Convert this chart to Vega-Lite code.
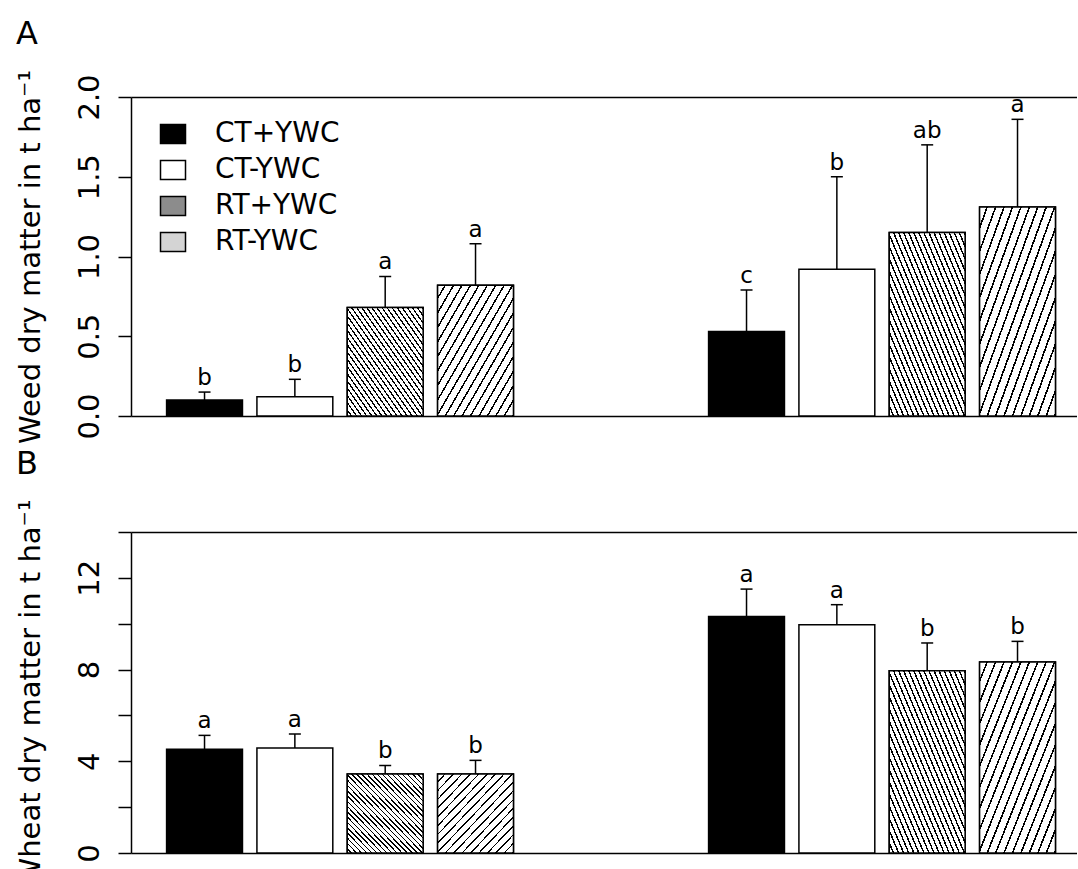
{
 "$schema": "https://vega.github.io/schema/vega-lite/v6.json",
 "padding": {"left": 15, "top": 18, "right": 0, "bottom": 0},
 "config": {
  "font": "DejaVu Sans",
  "view": {"stroke": null},
  "axis": {"domainColor": "black", "domainWidth": 1.5, "tickColor": "black", "tickWidth": 1.5, "tickSize": 13, "grid": false, "labelColor": "black", "labelFontSize": 29, "labelFont": "DejaVu Sans", "titleColor": "black", "titleFont": "DejaVu Sans", "titleFontSize": 29, "titleFontWeight": "normal"},
  "axisY": {"labelAngle": 270, "labelAlign": "center", "labelBaseline": "alphabetic", "labelPadding": 20, "titlePadding": 30},
  "title": {"font": "DejaVu Sans", "fontSize": 32, "fontWeight": "normal", "color": "black", "anchor": "start", "frame": "bounds"}
 },
 "datasets": {
  "weed": [
   {"year": "Y1", "trt": "CT+YWC", "mean": 0.10, "upper": 0.15, "letter": "b"},
   {"year": "Y1", "trt": "CT-YWC", "mean": 0.12, "upper": 0.23, "letter": "b"},
   {"year": "Y1", "trt": "RT+YWC", "mean": 0.68, "upper": 0.875, "letter": "a"},
   {"year": "Y1", "trt": "RT-YWC", "mean": 0.82, "upper": 1.08, "letter": "a"},
   {"year": "Y2", "trt": "CT+YWC", "mean": 0.53, "upper": 0.79, "letter": "c"},
   {"year": "Y2", "trt": "CT-YWC", "mean": 0.92, "upper": 1.50, "letter": "b"},
   {"year": "Y2", "trt": "RT+YWC", "mean": 1.15, "upper": 1.70, "letter": "ab"},
   {"year": "Y2", "trt": "RT-YWC", "mean": 1.31, "upper": 1.86, "letter": "a"}
  ],
  "wheat": [
   {"year": "Y1", "trt": "CT+YWC", "mean": 4.53, "upper": 5.13, "letter": "a"},
   {"year": "Y1", "trt": "CT-YWC", "mean": 4.58, "upper": 5.19, "letter": "a"},
   {"year": "Y1", "trt": "RT+YWC", "mean": 3.45, "upper": 3.82, "letter": "b"},
   {"year": "Y1", "trt": "RT-YWC", "mean": 3.45, "upper": 4.04, "letter": "b"},
   {"year": "Y2", "trt": "CT+YWC", "mean": 10.32, "upper": 11.51, "letter": "a"},
   {"year": "Y2", "trt": "CT-YWC", "mean": 9.96, "upper": 10.83, "letter": "a"},
   {"year": "Y2", "trt": "RT+YWC", "mean": 7.95, "upper": 9.16, "letter": "b"},
   {"year": "Y2", "trt": "RT-YWC", "mean": 8.33, "upper": 9.23, "letter": "b"}
  ]
 },
 "spacing": 3,
 "resolve": {"scale": {"y": "independent", "fill": "independent"}, "legend": {"fill": "independent"}},
 "vconcat": [
  {
   "data": {"name": "weed"},
   "width": 946, "height": 319,
   "title": {"text": "A", "offset": 18},
   "encoding": {
    "xOffset": {"field": "trt", "type": "nominal", "scale": {"domain": ["CT+YWC", "CT-YWC", "RT+YWC", "RT-YWC"], "paddingInner": 0.16, "paddingOuter": 0}},
    "y": {"field": "mean", "type": "quantitative", "scale": {"domain": [0, 2], "nice": false}, "axis": {"values": [0, 0.5, 1, 1.5, 2], "format": ".1f", "title": "Weed dry matter in t ha⁻¹"}}
   },
   "layer": [
    {"mark": {"type": "bar", "stroke": "black", "strokeWidth": 1.5},
     "encoding": {
      "x": {"field": "year", "type": "nominal", "scale": {"domain": ["Y1", "Y2"], "paddingInner": 0.36, "paddingOuter": 0.0527, "align": 0.623}, "axis": {"orient": "bottom", "labels": false, "ticks": false, "title": null}},
      "fill": {"field": "trt", "type": "nominal",
       "scale": {"domain": ["CT+YWC", "CT-YWC", "RT+YWC", "RT-YWC"], "range": ["black", "white", "#8c8c8c", "#d4d4d4"]},
       "legend": {"orient": "none", "legendX": 28, "legendY": 23, "title": null, "symbolType": "M-1,-0.76L1,-0.76L1,0.76L-1,0.76Z", "symbolSize": 625, "symbolStrokeWidth": 1.5, "symbolOpacity": 1, "labelFontSize": 28, "labelFont": "DejaVu Sans", "labelColor": "black", "labelOffset": 28, "rowPadding": 8, "padding": 0}}
     }},
    {"transform": [{"filter": "datum.trt === 'RT+YWC'"}],
     "mark": {"type": "bar", "stroke": "black", "strokeWidth": 1.5, "fill": {"gradient": "linear", "x1": 0, "y1": 1, "x2": 1, "y2": 0, "stops": [
      {"offset": 0, "color": "#fff"},
      {"offset": 0.0233, "color": "#fff"}, {"offset": 0.0233, "color": "#000"}, {"offset": 0.0333, "color": "#000"}, {"offset": 0.0333, "color": "#fff"},
      {"offset": 0.0567, "color": "#fff"}, {"offset": 0.0567, "color": "#000"}, {"offset": 0.0667, "color": "#000"}, {"offset": 0.0667, "color": "#fff"},
      {"offset": 0.09, "color": "#fff"}, {"offset": 0.09, "color": "#000"}, {"offset": 0.1, "color": "#000"}, {"offset": 0.1, "color": "#fff"},
      {"offset": 0.1233, "color": "#fff"}, {"offset": 0.1233, "color": "#000"}, {"offset": 0.1333, "color": "#000"}, {"offset": 0.1333, "color": "#fff"},
      {"offset": 0.1567, "color": "#fff"}, {"offset": 0.1567, "color": "#000"}, {"offset": 0.1667, "color": "#000"}, {"offset": 0.1667, "color": "#fff"},
      {"offset": 0.19, "color": "#fff"}, {"offset": 0.19, "color": "#000"}, {"offset": 0.2, "color": "#000"}, {"offset": 0.2, "color": "#fff"},
      {"offset": 0.2233, "color": "#fff"}, {"offset": 0.2233, "color": "#000"}, {"offset": 0.2333, "color": "#000"}, {"offset": 0.2333, "color": "#fff"},
      {"offset": 0.2567, "color": "#fff"}, {"offset": 0.2567, "color": "#000"}, {"offset": 0.2667, "color": "#000"}, {"offset": 0.2667, "color": "#fff"},
      {"offset": 0.29, "color": "#fff"}, {"offset": 0.29, "color": "#000"}, {"offset": 0.3, "color": "#000"}, {"offset": 0.3, "color": "#fff"},
      {"offset": 0.3233, "color": "#fff"}, {"offset": 0.3233, "color": "#000"}, {"offset": 0.3333, "color": "#000"}, {"offset": 0.3333, "color": "#fff"},
      {"offset": 0.3567, "color": "#fff"}, {"offset": 0.3567, "color": "#000"}, {"offset": 0.3667, "color": "#000"}, {"offset": 0.3667, "color": "#fff"},
      {"offset": 0.39, "color": "#fff"}, {"offset": 0.39, "color": "#000"}, {"offset": 0.4, "color": "#000"}, {"offset": 0.4, "color": "#fff"},
      {"offset": 0.4233, "color": "#fff"}, {"offset": 0.4233, "color": "#000"}, {"offset": 0.4333, "color": "#000"}, {"offset": 0.4333, "color": "#fff"},
      {"offset": 0.4567, "color": "#fff"}, {"offset": 0.4567, "color": "#000"}, {"offset": 0.4667, "color": "#000"}, {"offset": 0.4667, "color": "#fff"},
      {"offset": 0.49, "color": "#fff"}, {"offset": 0.49, "color": "#000"}, {"offset": 0.5, "color": "#000"}, {"offset": 0.5, "color": "#fff"},
      {"offset": 0.5233, "color": "#fff"}, {"offset": 0.5233, "color": "#000"}, {"offset": 0.5333, "color": "#000"}, {"offset": 0.5333, "color": "#fff"},
      {"offset": 0.5567, "color": "#fff"}, {"offset": 0.5567, "color": "#000"}, {"offset": 0.5667, "color": "#000"}, {"offset": 0.5667, "color": "#fff"},
      {"offset": 0.59, "color": "#fff"}, {"offset": 0.59, "color": "#000"}, {"offset": 0.6, "color": "#000"}, {"offset": 0.6, "color": "#fff"},
      {"offset": 0.6233, "color": "#fff"}, {"offset": 0.6233, "color": "#000"}, {"offset": 0.6333, "color": "#000"}, {"offset": 0.6333, "color": "#fff"},
      {"offset": 0.6567, "color": "#fff"}, {"offset": 0.6567, "color": "#000"}, {"offset": 0.6667, "color": "#000"}, {"offset": 0.6667, "color": "#fff"},
      {"offset": 0.69, "color": "#fff"}, {"offset": 0.69, "color": "#000"}, {"offset": 0.7, "color": "#000"}, {"offset": 0.7, "color": "#fff"},
      {"offset": 0.7233, "color": "#fff"}, {"offset": 0.7233, "color": "#000"}, {"offset": 0.7333, "color": "#000"}, {"offset": 0.7333, "color": "#fff"},
      {"offset": 0.7567, "color": "#fff"}, {"offset": 0.7567, "color": "#000"}, {"offset": 0.7667, "color": "#000"}, {"offset": 0.7667, "color": "#fff"},
      {"offset": 0.79, "color": "#fff"}, {"offset": 0.79, "color": "#000"}, {"offset": 0.8, "color": "#000"}, {"offset": 0.8, "color": "#fff"},
      {"offset": 0.8233, "color": "#fff"}, {"offset": 0.8233, "color": "#000"}, {"offset": 0.8333, "color": "#000"}, {"offset": 0.8333, "color": "#fff"},
      {"offset": 0.8567, "color": "#fff"}, {"offset": 0.8567, "color": "#000"}, {"offset": 0.8667, "color": "#000"}, {"offset": 0.8667, "color": "#fff"},
      {"offset": 0.89, "color": "#fff"}, {"offset": 0.89, "color": "#000"}, {"offset": 0.9, "color": "#000"}, {"offset": 0.9, "color": "#fff"},
      {"offset": 0.9233, "color": "#fff"}, {"offset": 0.9233, "color": "#000"}, {"offset": 0.9333, "color": "#000"}, {"offset": 0.9333, "color": "#fff"},
      {"offset": 0.9567, "color": "#fff"}, {"offset": 0.9567, "color": "#000"}, {"offset": 0.9667, "color": "#000"}, {"offset": 0.9667, "color": "#fff"},
      {"offset": 0.99, "color": "#fff"}, {"offset": 0.99, "color": "#000"}, {"offset": 1, "color": "#000"}]}},
     "encoding": {"x": {"field": "year", "type": "nominal", "axis": null}}},
    {"transform": [{"filter": "datum.trt === 'RT-YWC'"}],
     "mark": {"type": "bar", "stroke": "black", "strokeWidth": 1.5, "fill": {"gradient": "linear", "x1": 0, "y1": 0, "x2": 1, "y2": 1, "stops": [
      {"offset": 0, "color": "#fff"},
      {"offset": 0.0444, "color": "#fff"}, {"offset": 0.0444, "color": "#000"}, {"offset": 0.0556, "color": "#000"}, {"offset": 0.0556, "color": "#fff"},
      {"offset": 0.1, "color": "#fff"}, {"offset": 0.1, "color": "#000"}, {"offset": 0.1111, "color": "#000"}, {"offset": 0.1111, "color": "#fff"},
      {"offset": 0.1556, "color": "#fff"}, {"offset": 0.1556, "color": "#000"}, {"offset": 0.1667, "color": "#000"}, {"offset": 0.1667, "color": "#fff"},
      {"offset": 0.2111, "color": "#fff"}, {"offset": 0.2111, "color": "#000"}, {"offset": 0.2222, "color": "#000"}, {"offset": 0.2222, "color": "#fff"},
      {"offset": 0.2667, "color": "#fff"}, {"offset": 0.2667, "color": "#000"}, {"offset": 0.2778, "color": "#000"}, {"offset": 0.2778, "color": "#fff"},
      {"offset": 0.3222, "color": "#fff"}, {"offset": 0.3222, "color": "#000"}, {"offset": 0.3333, "color": "#000"}, {"offset": 0.3333, "color": "#fff"},
      {"offset": 0.3778, "color": "#fff"}, {"offset": 0.3778, "color": "#000"}, {"offset": 0.3889, "color": "#000"}, {"offset": 0.3889, "color": "#fff"},
      {"offset": 0.4333, "color": "#fff"}, {"offset": 0.4333, "color": "#000"}, {"offset": 0.4444, "color": "#000"}, {"offset": 0.4444, "color": "#fff"},
      {"offset": 0.4889, "color": "#fff"}, {"offset": 0.4889, "color": "#000"}, {"offset": 0.5, "color": "#000"}, {"offset": 0.5, "color": "#fff"},
      {"offset": 0.5444, "color": "#fff"}, {"offset": 0.5444, "color": "#000"}, {"offset": 0.5556, "color": "#000"}, {"offset": 0.5556, "color": "#fff"},
      {"offset": 0.6, "color": "#fff"}, {"offset": 0.6, "color": "#000"}, {"offset": 0.6111, "color": "#000"}, {"offset": 0.6111, "color": "#fff"},
      {"offset": 0.6556, "color": "#fff"}, {"offset": 0.6556, "color": "#000"}, {"offset": 0.6667, "color": "#000"}, {"offset": 0.6667, "color": "#fff"},
      {"offset": 0.7111, "color": "#fff"}, {"offset": 0.7111, "color": "#000"}, {"offset": 0.7222, "color": "#000"}, {"offset": 0.7222, "color": "#fff"},
      {"offset": 0.7667, "color": "#fff"}, {"offset": 0.7667, "color": "#000"}, {"offset": 0.7778, "color": "#000"}, {"offset": 0.7778, "color": "#fff"},
      {"offset": 0.8222, "color": "#fff"}, {"offset": 0.8222, "color": "#000"}, {"offset": 0.8333, "color": "#000"}, {"offset": 0.8333, "color": "#fff"},
      {"offset": 0.8778, "color": "#fff"}, {"offset": 0.8778, "color": "#000"}, {"offset": 0.8889, "color": "#000"}, {"offset": 0.8889, "color": "#fff"},
      {"offset": 0.9333, "color": "#fff"}, {"offset": 0.9333, "color": "#000"}, {"offset": 0.9444, "color": "#000"}, {"offset": 0.9444, "color": "#fff"},
      {"offset": 0.9889, "color": "#fff"}, {"offset": 0.9889, "color": "#000"}, {"offset": 1, "color": "#000"}]}},
     "encoding": {"x": {"field": "year", "type": "nominal", "axis": null}}},
    {"mark": {"type": "rule", "color": "black", "strokeWidth": 1.5},
     "encoding": {"x": {"field": "year", "type": "nominal", "axis": null}, "y2": {"field": "upper"}}},
    {"mark": {"type": "tick", "color": "black", "size": 12, "thickness": 1.5, "opacity": 1},
     "encoding": {"x": {"field": "year", "type": "nominal", "axis": null}, "y": {"field": "upper", "type": "quantitative"}}},
    {"mark": {"type": "text", "color": "black", "fontSize": 23, "dy": -7, "baseline": "alphabetic"},
     "encoding": {"x": {"field": "year", "type": "nominal", "axis": {"orient": "top", "labels": false, "ticks": false, "title": null}}, "y": {"field": "upper", "type": "quantitative"}, "text": {"field": "letter"}}}
   ]
  },
  {
   "data": {"name": "wheat"},
   "width": 946, "height": 321,
   "title": {"text": "B", "offset": 18},
   "encoding": {
    "xOffset": {"field": "trt", "type": "nominal", "scale": {"domain": ["CT+YWC", "CT-YWC", "RT+YWC", "RT-YWC"], "paddingInner": 0.16, "paddingOuter": 0}},
    "y": {"field": "mean", "type": "quantitative", "scale": {"domain": [0, 14], "nice": false}, "axis": {"values": [0, 2, 4, 6, 8, 10, 12, 14], "format": "d", "labelExpr": "(datum.value % 4 === 0 && datum.value < 14) ? datum.label : ''", "title": "Wheat dry matter in t ha⁻¹"}}
   },
   "layer": [
    {"mark": {"type": "bar", "stroke": "black", "strokeWidth": 1.5},
     "encoding": {
      "x": {"field": "year", "type": "nominal", "scale": {"domain": ["Y1", "Y2"], "paddingInner": 0.36, "paddingOuter": 0.0527, "align": 0.623}, "axis": {"orient": "bottom", "labels": false, "ticks": false, "title": null}},
      "fill": {"field": "trt", "type": "nominal", "scale": {"domain": ["CT+YWC", "CT-YWC", "RT+YWC", "RT-YWC"], "range": ["black", "white", "#8c8c8c", "#d4d4d4"]}, "legend": null}
     }},
    {"transform": [{"filter": "datum.trt === 'RT+YWC'"}],
     "mark": {"type": "bar", "stroke": "black", "strokeWidth": 1.5, "fill": {"gradient": "linear", "x1": 0, "y1": 1, "x2": 1, "y2": 0, "stops": [
      {"offset": 0, "color": "#fff"},
      {"offset": 0.0233, "color": "#fff"}, {"offset": 0.0233, "color": "#000"}, {"offset": 0.0333, "color": "#000"}, {"offset": 0.0333, "color": "#fff"},
      {"offset": 0.0567, "color": "#fff"}, {"offset": 0.0567, "color": "#000"}, {"offset": 0.0667, "color": "#000"}, {"offset": 0.0667, "color": "#fff"},
      {"offset": 0.09, "color": "#fff"}, {"offset": 0.09, "color": "#000"}, {"offset": 0.1, "color": "#000"}, {"offset": 0.1, "color": "#fff"},
      {"offset": 0.1233, "color": "#fff"}, {"offset": 0.1233, "color": "#000"}, {"offset": 0.1333, "color": "#000"}, {"offset": 0.1333, "color": "#fff"},
      {"offset": 0.1567, "color": "#fff"}, {"offset": 0.1567, "color": "#000"}, {"offset": 0.1667, "color": "#000"}, {"offset": 0.1667, "color": "#fff"},
      {"offset": 0.19, "color": "#fff"}, {"offset": 0.19, "color": "#000"}, {"offset": 0.2, "color": "#000"}, {"offset": 0.2, "color": "#fff"},
      {"offset": 0.2233, "color": "#fff"}, {"offset": 0.2233, "color": "#000"}, {"offset": 0.2333, "color": "#000"}, {"offset": 0.2333, "color": "#fff"},
      {"offset": 0.2567, "color": "#fff"}, {"offset": 0.2567, "color": "#000"}, {"offset": 0.2667, "color": "#000"}, {"offset": 0.2667, "color": "#fff"},
      {"offset": 0.29, "color": "#fff"}, {"offset": 0.29, "color": "#000"}, {"offset": 0.3, "color": "#000"}, {"offset": 0.3, "color": "#fff"},
      {"offset": 0.3233, "color": "#fff"}, {"offset": 0.3233, "color": "#000"}, {"offset": 0.3333, "color": "#000"}, {"offset": 0.3333, "color": "#fff"},
      {"offset": 0.3567, "color": "#fff"}, {"offset": 0.3567, "color": "#000"}, {"offset": 0.3667, "color": "#000"}, {"offset": 0.3667, "color": "#fff"},
      {"offset": 0.39, "color": "#fff"}, {"offset": 0.39, "color": "#000"}, {"offset": 0.4, "color": "#000"}, {"offset": 0.4, "color": "#fff"},
      {"offset": 0.4233, "color": "#fff"}, {"offset": 0.4233, "color": "#000"}, {"offset": 0.4333, "color": "#000"}, {"offset": 0.4333, "color": "#fff"},
      {"offset": 0.4567, "color": "#fff"}, {"offset": 0.4567, "color": "#000"}, {"offset": 0.4667, "color": "#000"}, {"offset": 0.4667, "color": "#fff"},
      {"offset": 0.49, "color": "#fff"}, {"offset": 0.49, "color": "#000"}, {"offset": 0.5, "color": "#000"}, {"offset": 0.5, "color": "#fff"},
      {"offset": 0.5233, "color": "#fff"}, {"offset": 0.5233, "color": "#000"}, {"offset": 0.5333, "color": "#000"}, {"offset": 0.5333, "color": "#fff"},
      {"offset": 0.5567, "color": "#fff"}, {"offset": 0.5567, "color": "#000"}, {"offset": 0.5667, "color": "#000"}, {"offset": 0.5667, "color": "#fff"},
      {"offset": 0.59, "color": "#fff"}, {"offset": 0.59, "color": "#000"}, {"offset": 0.6, "color": "#000"}, {"offset": 0.6, "color": "#fff"},
      {"offset": 0.6233, "color": "#fff"}, {"offset": 0.6233, "color": "#000"}, {"offset": 0.6333, "color": "#000"}, {"offset": 0.6333, "color": "#fff"},
      {"offset": 0.6567, "color": "#fff"}, {"offset": 0.6567, "color": "#000"}, {"offset": 0.6667, "color": "#000"}, {"offset": 0.6667, "color": "#fff"},
      {"offset": 0.69, "color": "#fff"}, {"offset": 0.69, "color": "#000"}, {"offset": 0.7, "color": "#000"}, {"offset": 0.7, "color": "#fff"},
      {"offset": 0.7233, "color": "#fff"}, {"offset": 0.7233, "color": "#000"}, {"offset": 0.7333, "color": "#000"}, {"offset": 0.7333, "color": "#fff"},
      {"offset": 0.7567, "color": "#fff"}, {"offset": 0.7567, "color": "#000"}, {"offset": 0.7667, "color": "#000"}, {"offset": 0.7667, "color": "#fff"},
      {"offset": 0.79, "color": "#fff"}, {"offset": 0.79, "color": "#000"}, {"offset": 0.8, "color": "#000"}, {"offset": 0.8, "color": "#fff"},
      {"offset": 0.8233, "color": "#fff"}, {"offset": 0.8233, "color": "#000"}, {"offset": 0.8333, "color": "#000"}, {"offset": 0.8333, "color": "#fff"},
      {"offset": 0.8567, "color": "#fff"}, {"offset": 0.8567, "color": "#000"}, {"offset": 0.8667, "color": "#000"}, {"offset": 0.8667, "color": "#fff"},
      {"offset": 0.89, "color": "#fff"}, {"offset": 0.89, "color": "#000"}, {"offset": 0.9, "color": "#000"}, {"offset": 0.9, "color": "#fff"},
      {"offset": 0.9233, "color": "#fff"}, {"offset": 0.9233, "color": "#000"}, {"offset": 0.9333, "color": "#000"}, {"offset": 0.9333, "color": "#fff"},
      {"offset": 0.9567, "color": "#fff"}, {"offset": 0.9567, "color": "#000"}, {"offset": 0.9667, "color": "#000"}, {"offset": 0.9667, "color": "#fff"},
      {"offset": 0.99, "color": "#fff"}, {"offset": 0.99, "color": "#000"}, {"offset": 1, "color": "#000"}]}},
     "encoding": {"x": {"field": "year", "type": "nominal", "axis": null}}},
    {"transform": [{"filter": "datum.trt === 'RT-YWC'"}],
     "mark": {"type": "bar", "stroke": "black", "strokeWidth": 1.5, "fill": {"gradient": "linear", "x1": 0, "y1": 0, "x2": 1, "y2": 1, "stops": [
      {"offset": 0, "color": "#fff"},
      {"offset": 0.0444, "color": "#fff"}, {"offset": 0.0444, "color": "#000"}, {"offset": 0.0556, "color": "#000"}, {"offset": 0.0556, "color": "#fff"},
      {"offset": 0.1, "color": "#fff"}, {"offset": 0.1, "color": "#000"}, {"offset": 0.1111, "color": "#000"}, {"offset": 0.1111, "color": "#fff"},
      {"offset": 0.1556, "color": "#fff"}, {"offset": 0.1556, "color": "#000"}, {"offset": 0.1667, "color": "#000"}, {"offset": 0.1667, "color": "#fff"},
      {"offset": 0.2111, "color": "#fff"}, {"offset": 0.2111, "color": "#000"}, {"offset": 0.2222, "color": "#000"}, {"offset": 0.2222, "color": "#fff"},
      {"offset": 0.2667, "color": "#fff"}, {"offset": 0.2667, "color": "#000"}, {"offset": 0.2778, "color": "#000"}, {"offset": 0.2778, "color": "#fff"},
      {"offset": 0.3222, "color": "#fff"}, {"offset": 0.3222, "color": "#000"}, {"offset": 0.3333, "color": "#000"}, {"offset": 0.3333, "color": "#fff"},
      {"offset": 0.3778, "color": "#fff"}, {"offset": 0.3778, "color": "#000"}, {"offset": 0.3889, "color": "#000"}, {"offset": 0.3889, "color": "#fff"},
      {"offset": 0.4333, "color": "#fff"}, {"offset": 0.4333, "color": "#000"}, {"offset": 0.4444, "color": "#000"}, {"offset": 0.4444, "color": "#fff"},
      {"offset": 0.4889, "color": "#fff"}, {"offset": 0.4889, "color": "#000"}, {"offset": 0.5, "color": "#000"}, {"offset": 0.5, "color": "#fff"},
      {"offset": 0.5444, "color": "#fff"}, {"offset": 0.5444, "color": "#000"}, {"offset": 0.5556, "color": "#000"}, {"offset": 0.5556, "color": "#fff"},
      {"offset": 0.6, "color": "#fff"}, {"offset": 0.6, "color": "#000"}, {"offset": 0.6111, "color": "#000"}, {"offset": 0.6111, "color": "#fff"},
      {"offset": 0.6556, "color": "#fff"}, {"offset": 0.6556, "color": "#000"}, {"offset": 0.6667, "color": "#000"}, {"offset": 0.6667, "color": "#fff"},
      {"offset": 0.7111, "color": "#fff"}, {"offset": 0.7111, "color": "#000"}, {"offset": 0.7222, "color": "#000"}, {"offset": 0.7222, "color": "#fff"},
      {"offset": 0.7667, "color": "#fff"}, {"offset": 0.7667, "color": "#000"}, {"offset": 0.7778, "color": "#000"}, {"offset": 0.7778, "color": "#fff"},
      {"offset": 0.8222, "color": "#fff"}, {"offset": 0.8222, "color": "#000"}, {"offset": 0.8333, "color": "#000"}, {"offset": 0.8333, "color": "#fff"},
      {"offset": 0.8778, "color": "#fff"}, {"offset": 0.8778, "color": "#000"}, {"offset": 0.8889, "color": "#000"}, {"offset": 0.8889, "color": "#fff"},
      {"offset": 0.9333, "color": "#fff"}, {"offset": 0.9333, "color": "#000"}, {"offset": 0.9444, "color": "#000"}, {"offset": 0.9444, "color": "#fff"},
      {"offset": 0.9889, "color": "#fff"}, {"offset": 0.9889, "color": "#000"}, {"offset": 1, "color": "#000"}]}},
     "encoding": {"x": {"field": "year", "type": "nominal", "axis": null}}},
    {"mark": {"type": "rule", "color": "black", "strokeWidth": 1.5},
     "encoding": {"x": {"field": "year", "type": "nominal", "axis": null}, "y2": {"field": "upper"}}},
    {"mark": {"type": "tick", "color": "black", "size": 12, "thickness": 1.5, "opacity": 1},
     "encoding": {"x": {"field": "year", "type": "nominal", "axis": null}, "y": {"field": "upper", "type": "quantitative"}}},
    {"mark": {"type": "text", "color": "black", "fontSize": 23, "dy": -7, "baseline": "alphabetic"},
     "encoding": {"x": {"field": "year", "type": "nominal", "axis": {"orient": "top", "labels": false, "ticks": false, "title": null}}, "y": {"field": "upper", "type": "quantitative"}, "text": {"field": "letter"}}}
   ]
  }
 ]
}
